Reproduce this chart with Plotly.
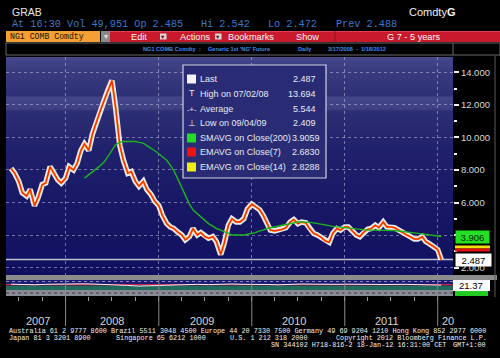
import plotly.graph_objects as go
import pandas as pd

# ---------------- data ----------------
start_date = "2007-06-01"          # semi-monthly samples
close = [8.1, 7.8, 7.3, 6.6, 6.4, 6.8, 5.8, 6.3, 7.1, 7.2, 8.2, 7.8, 7.4, 7.2,
         7.5, 8.2, 8.0, 8.4, 9.2, 9.6, 9.2, 10.2, 11.0, 11.6, 12.3, 12.9, 13.5,
         11.9, 9.5, 8.6, 7.8, 7.9, 7.3, 7.0, 7.3, 6.8, 6.5, 6.1, 5.8,
         5.2, 4.7, 4.5, 4.4, 4.2, 4.0, 3.7, 3.9, 4.4, 4.0, 4.15, 3.9, 3.8, 3.9, 3.6, 2.8, 3.5,
         4.6, 5.0, 4.8, 4.8, 5.0, 5.6, 5.9,
         5.75, 5.55, 5.2, 4.7, 4.3, 4.25, 4.3, 4.35, 4.45, 4.8, 4.95, 4.7, 4.8, 4.75,
         4.4, 4.1, 4.0, 3.85, 3.65, 3.55, 4.1, 4.4, 4.3, 4.5,
         4.5, 4.2, 4.0, 3.9, 4.15, 4.35, 4.4, 4.6, 4.45, 4.8, 4.5, 4.5, 4.45, 4.3,
         4.15, 4.0, 3.9, 3.75, 3.75, 3.9, 3.6, 3.45, 3.3, 3.1, 2.49]
sma200 = [7.5, 7.7, 7.9, 8.1, 8.25, 8.5, 8.8, 9.2, 9.55, 9.7, 9.75, 9.75, 9.75, 9.75,
          9.7, 9.65, 9.5, 9.35, 9.2, 9.0, 8.8, 8.6, 8.3, 7.95, 7.5, 6.9, 6.4, 5.9,
          5.55, 5.3, 5.1, 4.9, 4.7, 4.55, 4.4, 4.3, 4.2, 4.1, 4.0, 4.0, 4.0, 4.0,
          4.05, 4.1, 4.15, 4.25, 4.3, 4.4, 4.45, 4.5, 4.55, 4.6, 4.65, 4.7, 4.75,
          4.8, 4.8, 4.8, 4.78, 4.75, 4.72, 4.68, 4.63, 4.58, 4.53, 4.5, 4.46, 4.43,
          4.4, 4.38, 4.35, 4.33, 4.3, 4.3, 4.3, 4.3, 4.3, 4.3, 4.3, 4.3, 4.28, 4.25,
          4.23, 4.2, 4.17, 4.14, 4.1, 4.07, 4.03, 4.0, 3.97, 3.94, 3.91]
osc = [74, 72, 70, 73, 75, 74, 76, 75, 73, 72, 66, 62, 64, 70, 72, 74, 73, 71, 74,
       75, 73, 74, 72, 70, 73, 75, 74, 72, 73, 74, 75, 73, 72, 74, 73, 71, 70, 68]

last_price = 2.487
sma_last = 3.906
osc_last = "21.37"
price_ticks = [2, 4, 6, 8, 10, 12, 14]
price_tick_text = ["2.000", "", "6.000", "8.000", "10.000", "12.000", "14.000"]  # 4.000 hidden under the SMA tag
year_starts = ["2008-01-01", "2009-01-01", "2010-01-01", "2011-01-01", "2012-01-01"]
year_labels = ["2007", "2008", "2009", "2010", "2011", "20"]
year_label_dates = ["2007-09-15", "2008-07-01", "2009-06-20", "2010-06-16", "2011-06-16", "2012-01-08"]
legend_rows = [("Last", "2.487"), ("High on 07/02/08", "13.694"), ("Average", "5.544"),
               ("Low on 09/04/09", "2.409"), ("SMAVG on Close(200)", "3.9059"),
               ("EMAVG on Close(7)", "2.6830"), ("EMAVG on Close(14)", "2.8288")]

dates = pd.date_range(start_date, periods=len(close), freq="SMS")
sma_dates = dates[len(close) - len(sma200):]
osc_dates = dates[::3][:len(osc)]

# ---------------- helpers ----------------
W, H = 500, 358
def px(x): return x / W
def py(y): return 1 - y / H

NARROW = "Liberation Sans, Arial, sans-serif"
MONO = "Liberation Mono, DejaVu Sans Mono, monospace"
SANS = "Liberation Sans, DejaVu Sans, sans-serif"

shapes, annotations = [], []

def rect(x0, y0, x1, y1, fill, line=None, lw=0, layer="below"):
    shapes.append(dict(type="rect", xref="paper", yref="paper", x0=px(x0), x1=px(x1),
                       y0=py(y1), y1=py(y0), fillcolor=fill, layer=layer,
                       line=dict(color=line or fill, width=lw)))

def hline(x0, x1, y, color, w=1, dash="solid", layer="below"):
    shapes.append(dict(type="line", xref="paper", yref="paper", x0=px(x0), x1=px(x1),
                       y0=py(y), y1=py(y), layer=layer, line=dict(color=color, width=w, dash=dash)))

def txt(x, y, s, size, color, family=NARROW, xanchor="left", **kw):
    annotations.append(dict(xref="paper", yref="paper", x=px(x), y=py(y), text=s,
                            showarrow=False, xanchor=xanchor, yanchor="middle",
                            borderpad=0, font=dict(family=family, size=size, color=color), **kw))

# ---------------- background of main panel (gradient) ----------------
stops = [(57, (70, 72, 140)), (70, (58, 60, 128)), (95, (46, 48, 118)), (97, (68, 70, 138)),
         (108, (62, 64, 132)), (111, (44, 46, 116)), (150, (32, 33, 108)),
         (200, (24, 24, 102)), (276, (16, 16, 96))]
def col_at(y):
    for (y0, c0), (y1, c1) in zip(stops[:-1], stops[1:]):
        if y0 <= y <= y1:
            t = (y - y0) / (y1 - y0) if y1 > y0 else 0
            return "rgb(%d,%d,%d)" % tuple(round(a + (b - a) * t) for a, b in zip(c0, c1))
    return "rgb(16,16,96)"
for y in range(57, 275):
    rect(6, y, 453, y + 1.6, col_at(y))

# separators / sub panel
rect(6, 275, 497, 280, "#8c8c8c")
rect(6, 280, 453, 285.5, "#1c1c72")
rect(6, 285.5, 453, 290, "#1f6a5c")
rect(6, 290, 453, 296, "#8a8a94")
hline(6, 453, 293, "#55555f", 1.5, "dot")
hline(6, 453, 281.5, "#8a8ac0", 1, "dot")
hline(6, 453, 284.7, "#d0204a", 1.2)
# right border
shapes.append(dict(type="line", xref="paper", yref="paper", x0=px(495), x1=px(495),
                   y0=py(297), y1=py(56), line=dict(color="#5a5a5a", width=1)))
# year separators below chart
for d in year_starts:
    shapes.append(dict(type="line", xref="x", yref="paper", x0=d, x1=d, y0=py(326), y1=py(275),
                       line=dict(color="#8a8a8a", width=1), layer="above"))
# last price line
shapes.append(dict(type="line", xref="paper", yref="y", x0=px(6), x1=px(453),
                   y0=last_price, y1=last_price, layer="below",
                   line=dict(color="#c0c0d0", width=1.5)))

# ---------------- header ----------------
txt(11, 12, "GRAB", 10.5, "#e6e6e6", SANS)
BLUE = "#3a78cc"
txt(11, 24.5, "At 16:30 Vol 49,951 Op 2.485", 10.2, BLUE, MONO)
txt(200, 24.5, "Hi 2.542", 10.2, BLUE, MONO)
txt(267, 24.5, "Lo 2.472", 10.2, BLUE, MONO)
txt(335, 24.5, "Prev 2.488", 10.2, BLUE, MONO)
txt(408, 12.5, "Comdty<b>G</b>", 11, "#f0f0f0", SANS)

# toolbar
rect(6, 31, 100, 42, "#f4a034", layer="above")
txt(9, 36.5, "NG1 COMB Comdty", 8.2, "#1a1000", MONO)
rect(101, 31, 110, 42, "#8a8a8a", layer="above")
txt(105.5, 36.5, "▾", 8, "#e0e0e0", SANS, xanchor="center")
rect(110, 31, 500, 42, "#c81a2c", layer="above")
hline(110, 500, 31.5, "#e04050", 1, layer="above")
shapes.append(dict(type="line", xref="paper", yref="paper", x0=px(335), x1=px(335),
                   y0=py(42), y1=py(31), layer="above", line=dict(color="#901020", width=1)))
for cx, s in [(139, "Edit"), (195, "Actions"), (250.5, "Bookmarks"), (307, "Show"), (414, "G 7 - 5 years")]:
    txt(cx, 36.5, s, 9.2, "#f6f6f6", NARROW, xanchor="center")
for bx in (160, 215):
    rect(bx, 33.5, bx + 6.5, 39.5, "#d8d8d8", layer="above")
    txt(bx + 3.25, 36.8, "▾", 6.5, "#700010", SANS, xanchor="center")

# sub header
rect(6, 43, 500, 55, "#000000", "#6a6a6a", 1, layer="above")
shapes.append(dict(type="line", xref="paper", yref="paper", x0=px(453), x1=px(453),
                   y0=py(55), y1=py(43), layer="above", line=dict(color="#6a6a6a", width=1)))
SB = "#3d8cf0"
txt(142, 49, "<b>NG1 COMB Comdty</b>", 5.6, SB, NARROW)
txt(198, 49, "<b>:</b>", 5.6, SB, NARROW)
txt(207, 49, "<b>Generic 1st 'NG' Future</b>", 5.6, SB, NARROW)
txt(297, 49, "<b>Daily</b>", 5.6, SB, NARROW)
txt(327, 49, "<b>3/17/2008  -  1/18/2012</b>", 5.6, SB, NARROW)

# ---------------- legend box ----------------
rect(183, 65, 326, 178, "#292c74", "#d0d0e0", 1.2, layer="above")
row_y = [79, 94, 109, 123, 138, 152, 167]
icon_colors = {0: "#f4f4f4", 4: "#22dd22", 5: "#ee1111", 6: "#eeee11"}
for i, ((label, val), yy) in enumerate(zip(legend_rows, row_y)):
    if i in icon_colors:
        rect(187, yy - 4.5, 196, yy + 4.5, icon_colors[i], layer="above")
    txt(199, yy, label, 9, "#e8e8f0")
    txt(321 if len(val.split(".")[1]) == 4 else 317, yy, val, 9, "#e8e8f0", xanchor="right")
txt(191.5, 93, "T", 9, "#e8e8f0", SANS, xanchor="center")
txt(191.5, 109, "-+-", 7.5, "#e8e8f0", SANS, xanchor="center")
txt(191.5, 123, "⊥", 9, "#e8e8f0", "DejaVu Sans", xanchor="center")

# ---------------- right-side value tags ----------------
annotations.append(dict(xref="paper", yref="y", x=px(455), y=sma_last, text="3.906",
                        showarrow=False, xanchor="left", yanchor="middle", width=33, height=12,
                        bgcolor="#22e022", borderpad=0,
                        font=dict(family=NARROW, size=9.5, color="#062006")))
rect(455, 245.5, 490, 248.5, "#f0e010", layer="above")
rect(455, 248.5, 490, 251.5, "#e01010", layer="above")
annotations.append(dict(xref="paper", yref="y", x=px(455), y=last_price, text="2.487",
                        showarrow=False, xanchor="left", yanchor="middle", width=35, height=12,
                        bgcolor="#ffffff", borderpad=0,
                        font=dict(family=NARROW, size=9.5, color="#000000")))
rect(453, 280, 490, 291, "#ffffff", layer="above")
txt(471, 285.8, osc_last, 9.5, "#000000", xanchor="center")
rect(455, 291, 488, 296, "#22cc22", layer="above")

# ---------------- year labels & footer ----------------
for lab, d in zip(year_labels, year_label_dates):
    annotations.append(dict(xref="x", yref="paper", x=d, y=py(321), text=lab, showarrow=False,
                            xanchor="left" if lab == "20" else "center", yanchor="middle",
                            font=dict(family=NARROW, size=11, color="#d6d6d6")))
FS = 6.8
txt(8, 330.5, "Australia 61 2 9777 8600 Brazil 5511 3048 4500 Europe 44 20 7330 7500 "
               "Germany 49 69 9204 1210 Hong Kong 852 2977 6000", FS, "#f0f0f0", MONO)
txt(8, 337.5, "Japan 81 3 3201 8900", FS, "#f0f0f0", MONO)
txt(115, 337.5, "Singapore 65 6212 1000", FS, "#f0f0f0", MONO)
txt(229, 337.5, "U.S. 1 212 318 2000", FS, "#f0f0f0", MONO)
txt(335, 337.5, "Copyright 2012 Bloomberg Finance L.P.", FS, "#f0f0f0", MONO)
txt(270, 344.5, "SN 344102 H718-816-2 18-Jan-12 16:31:00 CET", FS, "#f0f0f0", MONO)
txt(487, 344.5, "GMT+1:00", FS, "#f0f0f0", MONO, xanchor="right")

# ---------------- traces ----------------
fig = go.Figure()
fig.add_trace(go.Scatter(x=dates, y=close, mode="lines", name="Last",
                         line=dict(color="rgba(255,255,255,0.9)", width=5.5)))
fig.add_trace(go.Scatter(x=dates, y=close, mode="lines", name="EMAVG(14)",
                         line=dict(color="#ff9a00", width=2.0)))
fig.add_trace(go.Scatter(x=dates, y=close, mode="lines", name="EMAVG(7)",
                         line=dict(color="#ff2800", width=1.3)))
fig.add_trace(go.Scatter(x=sma_dates, y=sma200, mode="lines", name="SMAVG(200)",
                         line=dict(color="#1cb41c", width=1.4)))
fig.add_trace(go.Scatter(x=osc_dates, y=osc, mode="lines", xaxis="x2", yaxis="y2",
                         line=dict(color="#f0f0f0", width=1)))

GRID = "rgba(190,190,225,0.55)"
fig.update_layout(
    width=W, height=H, margin=dict(l=0, r=0, t=0, b=0),
    paper_bgcolor="black", plot_bgcolor="rgba(0,0,0,0)", showlegend=False,
    xaxis=dict(domain=[px(6), px(453)], range=["2007-05-12", "2012-03-01"], type="date",
               showgrid=True, gridcolor=GRID, griddash="dot", gridwidth=1,
               tickvals=year_starts, showticklabels=False, ticks="", zeroline=False,
               showline=False, anchor="y"),
    yaxis=dict(domain=[py(275), py(57)], range=[1.54, 14.95], side="right", anchor="x",
               tickvals=price_ticks, ticktext=price_tick_text,
               showgrid=True, gridcolor=GRID, griddash="dot", gridwidth=1,
               ticks="outside", ticklen=5, tickwidth=1.5, tickcolor="#f0f0f0",
               minor=dict(dtick=1, tick0=0, ticks="outside", ticklen=3, tickcolor="#f0f0f0",
                          showgrid=False),
               tickfont=dict(family=NARROW, size=9.5, color="#d8d8d8"),
               zeroline=False, showline=False),
    xaxis2=dict(domain=[px(6), px(453)], matches="x", anchor="y2", type="date",
                showgrid=False, ticks="outside", ticklen=4, tickcolor="#9a9a9a",
                dtick="M3", tick0="2007-01-01", showticklabels=False, showline=False,
                zeroline=False),
    yaxis2=dict(domain=[py(296), py(280)], range=[0, 100], showgrid=False,
                showticklabels=False, ticks="", zeroline=False, anchor="x2"),
    shapes=shapes, annotations=annotations,
)
fig.write_html("out.html", config={"displayModeBar": False},
               post_script="document.body.style.margin='0';document.body.style.overflow='hidden';")
